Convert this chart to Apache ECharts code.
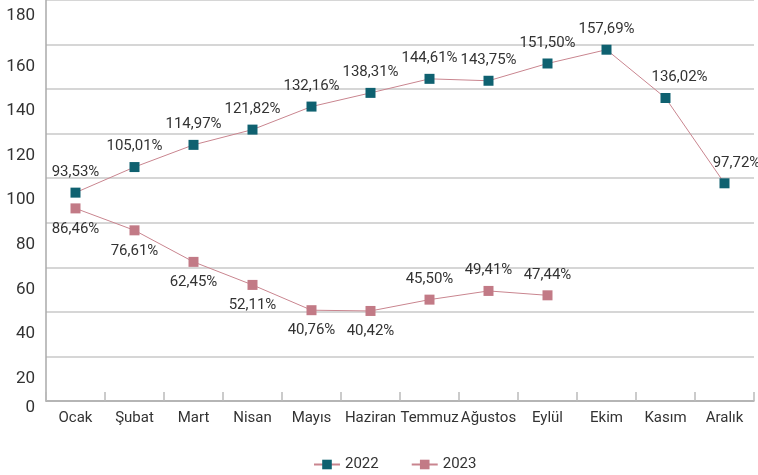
<!DOCTYPE html>
<html lang="tr">
<head>
<meta charset="UTF-8">
<title>2022 - 2023</title>
<script src="https://cdn.jsdelivr.net/npm/echarts@6/dist/echarts.min.js"></script>
<style>
  html, body { margin: 0; padding: 0; background: #fff; }
  #main { width: 758px; height: 475px; }
</style>
</head>
<body>
<div id="main"></div>
<script type="text/javascript">
// months
var months = ['Ocak', 'Şubat', 'Mart', 'Nisan', 'Mayıs', 'Haziran', 'Temmuz', 'Ağustos', 'Eylül', 'Ekim', 'Kasım', 'Aralık'];
// values (%)
var data2022 = [93.53, 105.01, 114.97, 121.82, 132.16, 138.31, 144.61, 143.75, 151.50, 157.69, 136.02, 97.72];
var data2023 = [86.46, 76.61, 62.45, 52.11, 40.76, 40.42, 45.50, 49.41, 47.44];
var yTicks = [0, 20, 40, 60, 80, 100, 120, 140, 160, 180];

var FONT = 'Roboto, "Noto Sans", sans-serif';

function pct(v) {
    return v.toFixed(2).replace('.', ',') + '%';
}

// labels of 2023 that sit above the point
var up2023 = [6, 7, 8];
// labels of 2022 pushed a bit to the right
var shift2022 = {10: 14, 11: 12};

var items2022 = data2022.map(function (v, i) {
    var it = {value: v};
    if (shift2022[i]) it.label = {offset: [shift2022[i], 0]};
    return it;
});
var items2023 = data2023.map(function (v, i) {
    return {value: v, label: {position: up2023.indexOf(i) >= 0 ? 'top' : 'bottom'}};
});

var myChart = echarts.init(document.getElementById('main'));
var option = {
    animation: false,
    textStyle: {fontFamily: FONT},
    grid: {left: 46, right: 4, top: 0, bottom: 74, containLabel: false},
    legend: {
        left: 308,
        top: 452,
        itemWidth: 26,
        itemHeight: 12,
        itemGap: 32,
        textStyle: {fontSize: 15, color: '#333', fontFamily: FONT},
        data: ['2022', '2023']
    },
    xAxis: {
        type: 'category',
        data: months,
        boundaryGap: true,
        axisLine: {lineStyle: {color: '#aaaaaa', width: 1.5}},
        axisTick: {show: true, inside: true, length: 9, lineStyle: {color: '#bbbbbb', width: 1.5}},
        axisLabel: {fontSize: 15, color: '#333', margin: 10, interval: 0, fontFamily: FONT},
        splitLine: {show: false}
    },
    yAxis: {
        type: 'value',
        min: yTicks[0],
        max: yTicks[yTicks.length - 1],
        interval: 20,
        axisLine: {show: true, lineStyle: {color: '#aaaaaa', width: 1.5}},
        axisTick: {show: false},
        splitLine: {lineStyle: {color: '#c8c8c8', width: 1.5}},
        axisLabel: {
            color: '#333',
            fontSize: 17,
            margin: 11,
            verticalAlign: 'top',
            fontFamily: FONT,
            formatter: function (v) {
                if (v === yTicks[yTicks.length - 1]) return '{a|' + v + '}';
                if (v === yTicks[0]) return '{c|' + v + '}';
                return '{b|' + v + '}';
            },
            rich: {
                a: {fontSize: 17, lineHeight: 32, color: '#333', fontFamily: FONT},
                b: {fontSize: 17, lineHeight: 44, color: '#333', fontFamily: FONT},
                c: {fontSize: 17, lineHeight: 14, color: '#333', fontFamily: FONT}
            }
        }
    },
    series: [
        {
            name: '2022',
            type: 'line',
            data: items2022,
            symbol: 'rect',
            symbolSize: 10,
            itemStyle: {color: '#0f6170'},
            lineStyle: {color: '#c9858f', width: 1},
            label: {
                show: true,
                position: 'top',
                distance: 8,
                fontSize: 15,
                color: '#333',
                fontFamily: FONT,
                formatter: function (p) { return pct(p.value); }
            },
            z: 3
        },
        {
            name: '2023',
            type: 'line',
            data: items2023,
            symbol: 'rect',
            symbolSize: 10,
            itemStyle: {color: '#c27a86'},
            lineStyle: {color: '#c9858f', width: 1},
            label: {
                show: true,
                position: 'bottom',
                distance: 8,
                fontSize: 15,
                color: '#333',
                fontFamily: FONT,
                formatter: function (p) { return pct(p.value); }
            },
            z: 2
        }
    ]
};
myChart.setOption(option);
</script>
</body>
</html>
